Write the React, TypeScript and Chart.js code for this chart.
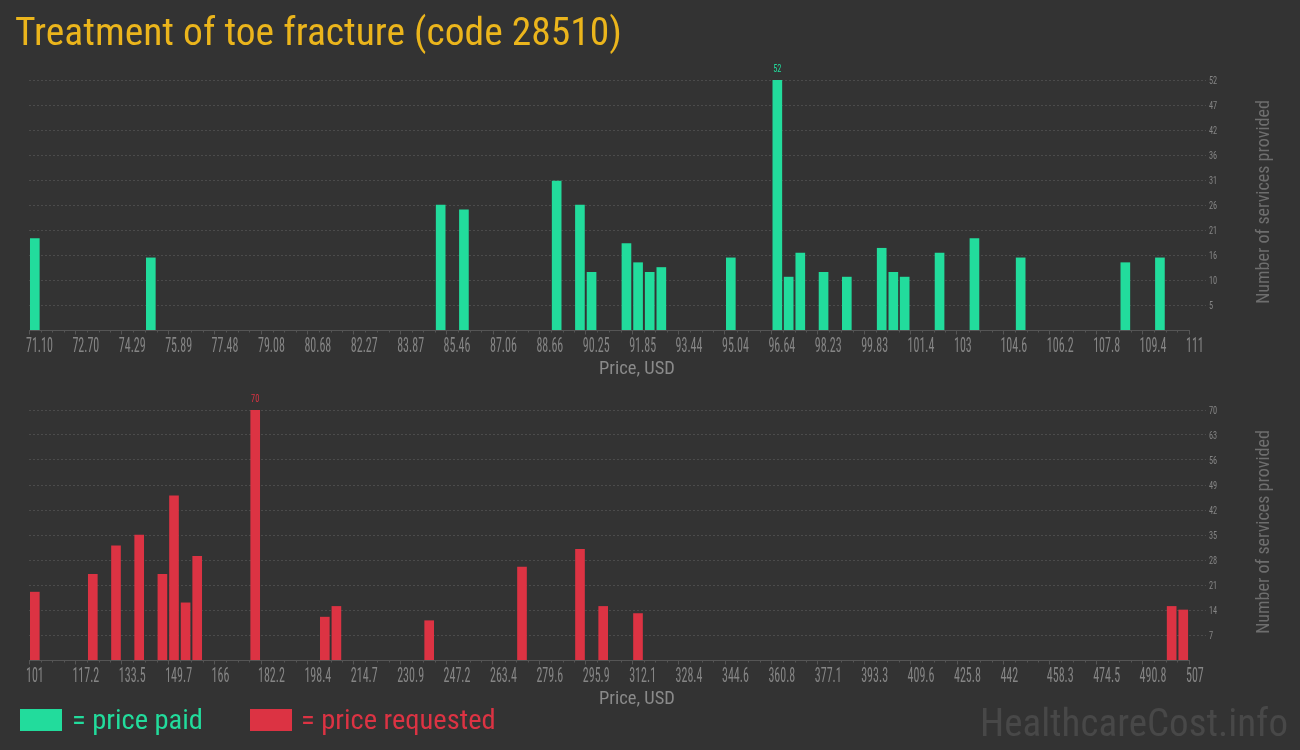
import React, { useEffect, useRef } from "react";
import { Chart, registerables } from "chart.js";

Chart.register(...registerables);

// ---------- data ----------
const paidPrices = [71.3, 75.29, 85.26, 86.06, 89.25, 90.05, 90.45, 91.65, 92.05, 92.45, 92.85, 95.24, 96.84, 97.23, 97.63, 98.43, 99.23, 100.43, 100.83, 101.22, 102.42, 103.62, 105.21, 108.81, 110.0];
const paidCounts = [19, 15, 26, 25, 31, 26, 12, 18, 14, 12, 13, 15, 52, 11, 16, 12, 11, 17, 12, 11, 16, 19, 15, 14, 15];
const paidTickLabels = ["71.10", "72.70", "74.29", "75.89", "77.48", "79.08", "80.68", "82.27", "83.87", "85.46", "87.06", "88.66", "90.25", "91.85", "93.44", "95.04", "96.64", "98.23", "99.83", "101.4", "103", "104.6", "106.2", "107.8", "109.4", "111"];
const paidRange = [71.1, 111.0];
const paidYTicks = [5.2, 10.4, 15.6, 20.8, 26, 31.2, 36.4, 41.6, 46.8, 52];

const requestedPrices = [103.03, 123.33, 131.45, 139.57, 147.69, 151.75, 155.81, 159.87, 180.17, 204.53, 208.59, 241.07, 273.55, 293.85, 301.97, 314.15, 500.93, 504.99];
const requestedCounts = [19, 24, 32, 35, 24, 46, 16, 29, 70, 12, 15, 11, 26, 31, 15, 13, 15, 14];
const requestedTickLabels = ["101", "117.2", "133.5", "149.7", "166", "182.2", "198.4", "214.7", "230.9", "247.2", "263.4", "279.6", "295.9", "312.1", "328.4", "344.6", "360.8", "377.1", "393.3", "409.6", "425.8", "442", "458.3", "474.5", "490.8", "507"];
const requestedRange = [101, 507];
const requestedYTicks = [7, 14, 21, 28, 35, 42, 49, 56, 63, 70];

const TITLE = "Treatment of toe fracture (code 28510)";
const X_TITLE = "Price, USD";
const Y_TITLE = "Number of services provided";
const LEGEND_PAID = "= price paid";
const LEGEND_REQ = "= price requested";
const WATERMARK = "HealthcareCost.info";

// ---------- style ----------
const BG = "#333333";
const GREEN = "#22dc9c";
const RED = "#dc3343";
const GOLD = "#ebb51c";
const TICK = "#858585";
const AXIS = "#555555";
const GRID = "#4b4b4b";
const FONT = "'Roboto Condensed', Roboto, sans-serif";

type Extra = {
  xLabels: string[];
  xMin: number;
  xMax: number;
  yTicks: number[];
  color: string;
  xTitleBaseline: number;
  header?: boolean;
  footer?: boolean;
};

function condensedText(ctx: CanvasRenderingContext2D, text: string, x: number, y: number, sx: number, align: CanvasTextAlign) {
  ctx.save();
  ctx.translate(x, y);
  ctx.scale(sx, 1);
  ctx.textAlign = align;
  ctx.fillText(text, 0, 0);
  ctx.restore();
}

const decor = {
  id: "decor",
  afterDraw(chart: any, _args: any, o: Extra) {
    const ctx: CanvasRenderingContext2D = chart.ctx;
    const xs = chart.scales.x;
    const ys = chart.scales.y;
    const a = chart.chartArea;
    const n = o.xLabels.length - 1;
    const step = (o.xMax - o.xMin) / n;
    ctx.save();
    // minor ticks
    ctx.strokeStyle = AXIS;
    ctx.lineWidth = 1;
    for (let i = 0; i < n; i++) {
      for (let k = 1; k < 4; k++) {
        const px = Math.round(xs.getPixelForValue(o.xMin + (i + k / 4) * step)) + 0.5;
        ctx.beginPath();
        ctx.moveTo(px, a.bottom);
        ctx.lineTo(px, a.bottom + 2.5);
        ctx.stroke();
      }
    }
    // x tick labels
    ctx.fillStyle = TICK;
    ctx.textBaseline = "alphabetic";
    ctx.font = `20px ${FONT}`;
    o.xLabels.forEach((lab, i) => {
      const px = xs.getPixelForValue(o.xMin + i * step);
      condensedText(ctx, lab, px - 3, a.bottom + 22, 0.6, "left");
    });
    // y tick labels
    ctx.font = `11.5px ${FONT}`;
    o.yTicks.forEach((v) => {
      const py = ys.getPixelForValue(v);
      condensedText(ctx, String(Math.round(v)), a.right + 20, py + 4, 0.72, "left");
    });
    // max value label
    const ds = chart.data.datasets[0].data as { x: number; y: number }[];
    let best = ds[0];
    ds.forEach((d) => {
      if (d.y > best.y) best = d;
    });
    ctx.fillStyle = o.color;
    condensedText(ctx, String(best.y), xs.getPixelForValue(best.x), ys.getPixelForValue(best.y) - 8, 0.72, "center");
    // x title
    ctx.fillStyle = "#8a8a8a";
    ctx.font = `18.5px ${FONT}`;
    ctx.textAlign = "center";
    ctx.fillText(X_TITLE, 637, o.xTitleBaseline);
    // y title
    ctx.save();
    ctx.translate(1269, (a.top + a.bottom) / 2 - 3);
    ctx.rotate(-Math.PI / 2);
    ctx.fillStyle = "#6e6e6e";
    ctx.font = `18px ${FONT}`;
    ctx.textAlign = "center";
    ctx.fillText(Y_TITLE, 0, 0);
    ctx.restore();
    // header
    if (o.header) {
      ctx.fillStyle = GOLD;
      ctx.font = `39.5px ${FONT}`;
      ctx.textAlign = "left";
      ctx.fillText(TITLE, 15, 45);
    }
    // footer legend + watermark
    if (o.footer) {
      const base = 349;
      ctx.fillStyle = GREEN;
      ctx.fillRect(20, 329, 42, 22);
      ctx.font = `28.5px ${FONT}`;
      ctx.textAlign = "left";
      ctx.fillText(LEGEND_PAID, 72, base);
      ctx.fillStyle = RED;
      ctx.fillRect(250, 329, 42, 22);
      ctx.fillText(LEGEND_REQ, 301, base);
      ctx.fillStyle = "#484848";
      ctx.font = `39px ${FONT}`;
      ctx.textAlign = "right";
      ctx.fillText(WATERMARK, 1288, 356);
    }
    ctx.restore();
  },
};

function HistChart(props: {
  prices: number[];
  counts: number[];
  labels: string[];
  range: number[];
  yTicks: number[];
  color: string;
  height: number;
  padTop: number;
  xAxisHeight: number;
  xTitleBaseline: number;
  header?: boolean;
  footer?: boolean;
}) {
  const ref = useRef<HTMLCanvasElement>(null);
  useEffect(() => {
    const p = props;
    const xMin = p.range[0];
    const xMax = p.range[1];
    const n = p.labels.length - 1;
    const extra: Extra = {
      xLabels: p.labels,
      xMin,
      xMax,
      yTicks: p.yTicks,
      color: p.color,
      xTitleBaseline: p.xTitleBaseline,
      header: p.header,
      footer: p.footer,
    };
    const chart = new Chart(ref.current!, {
      type: "bar",
      data: {
        datasets: [
          {
            data: p.prices.map((x, i) => ({ x, y: p.counts[i] })),
            backgroundColor: p.color,
            borderWidth: 0,
            barThickness: 9,
          } as any,
        ],
      },
      options: {
        responsive: false,
        animation: false,
        devicePixelRatio: 1,
        layout: { padding: { left: 29, top: p.padTop, right: 0, bottom: 0 } },
        plugins: {
          legend: { display: false },
          tooltip: { enabled: false },
          decor: extra,
        } as any,
        scales: {
          x: {
            type: "linear",
            min: xMin,
            max: xMax,
            offset: false,
            afterBuildTicks: (s: any) => {
              s.ticks = p.labels.map((_l, i) => ({ value: xMin + (i * (xMax - xMin)) / n }));
            },
            afterFit: (s: any) => {
              s.height = p.xAxisHeight;
            },
            ticks: { display: false, autoSkip: false },
            grid: { drawOnChartArea: false, drawTicks: true, tickLength: 4.5, color: AXIS, offset: false },
            border: { display: true, color: AXIS, width: 1 },
          },
          y: {
            type: "linear",
            position: "right",
            min: 0,
            max: p.yTicks[p.yTicks.length - 1],
            afterBuildTicks: (s: any) => {
              s.ticks = p.yTicks.map((v) => ({ value: v }));
            },
            afterFit: (s: any) => {
              s.width = 111;
            },
            ticks: { display: false, autoSkip: false },
            grid: { color: GRID, tickLength: 17, tickColor: GRID, tickBorderDash: [2, 2] } as any,
            border: { display: false, dash: [2, 2] },
          },
        },
      } as any,
      plugins: [decor as any],
    });
    return () => chart.destroy();
  }, []);
  return <canvas ref={ref} width={1300} height={props.height} style={{ display: "block", width: 1300, height: props.height }} />;
}

export default function App() {
  return (
    <div style={{ position: "absolute", left: 0, top: 0, width: 1300, height: 750, background: BG, overflow: "hidden" }}>
      <HistChart
        prices={paidPrices}
        counts={paidCounts}
        labels={paidTickLabels}
        range={paidRange}
        yTicks={paidYTicks}
        color={GREEN}
        height={380}
        padTop={80}
        xAxisHeight={50}
        xTitleBaseline={374}
        header
      />
      <HistChart
        prices={requestedPrices}
        counts={requestedCounts}
        labels={requestedTickLabels}
        range={requestedRange}
        yTicks={requestedYTicks}
        color={RED}
        height={370}
        padTop={30}
        xAxisHeight={90}
        xTitleBaseline={324}
        footer
      />
    </div>
  );
}
